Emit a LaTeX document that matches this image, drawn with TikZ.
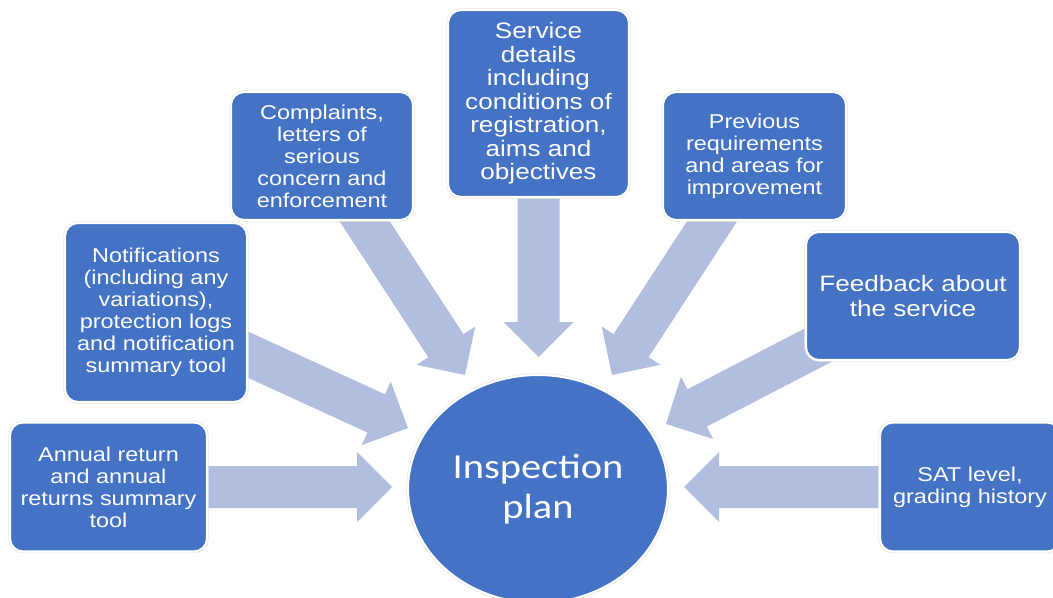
\documentclass[tikz,border=0pt]{standalone}
\usepackage{fontspec}
\setmainfont{Liberation Sans}
\newfontfamily\boxfont{Liberation Sans}[FakeStretch=1.17]
\newfontfamily\planfont{Carlito}[FakeStretch=1.15]
\usepackage{xcolor}
\usepackage{tikz}
\usetikzlibrary{calc,shapes.geometric,backgrounds}
\definecolor{boxblue}{RGB}{68,114,196}
\definecolor{arrowblue}{RGB}{177,190,223}

\tikzset{
  infobox/.style={rectangle, rounded corners=0.26cm, fill=boxblue, draw=white, line width=1.2pt,
    preaction={draw=black!10, line width=1.9pt}, text=white, align=center, inner sep=0pt,
    font=\boxfont\fontsize{11.4}{12.5}\selectfont},
  bigtext/.style={font=\boxfont\fontsize{12.7}{13.4}\selectfont},
  plannode/.style={ellipse, fill=boxblue, draw=white, line width=1.2pt,
    preaction={draw=black!10, line width=1.9pt}, text=white, align=center, inner sep=0pt,
    minimum width=5.2cm, minimum height=4.56cm, font=\planfont\fontsize{20}{22.7}\selectfont}
}

% block arrow from centre of #1 to #2
\newcommand{\fatarrow}[2]{%
  \fill[arrowblue] let \p1=(#1), \p2=(#2),
    \n1={atan2(\y2-\y1,\x2-\x1)}, \n2={veclen(\x2-\x1,\y2-\y1)} in
    [shift={(\p1)}, rotate=\n1]
    (0cm,-0.42cm) -- ({\n2-0.7cm},-0.42cm) -- ({\n2-0.7cm},-0.7cm) -- ({\n2},0cm)
    -- ({\n2-0.7cm},0.7cm) -- ({\n2-0.7cm},0.42cm) -- (0cm,0.42cm) -- cycle;
}

\begin{document}
\begin{tikzpicture}
\useasboundingbox (0,0) rectangle (21.06,11.94);

\node[plannode] (plan) at (10.76,2.16) {Inspection\\plan};

\node[infobox, minimum width=3.94cm, minimum height=2.58cm] (ann) at (2.17,2.2)
  {Annual return\\and annual\\returns summary\\tool};
\node[infobox, minimum width=3.64cm, minimum height=3.58cm] (notif) at (3.12,5.69)
  {Notifications\\(including any\\variations),\\protection logs\\and notification\\summary tool};
\node[infobox, minimum width=3.64cm, minimum height=2.56cm] (compl) at (6.44,8.82)
  {Complaints,\\letters of\\serious\\concern and\\enforcement};
\node[infobox, bigtext, minimum width=3.62cm, minimum height=3.74cm] (serv) at (10.77,9.87)
  {Service\\details\\including\\conditions of\\registration,\\aims and\\objectives};
\node[infobox, minimum width=3.66cm, minimum height=2.56cm] (prev) at (15.09,8.82)
  {Previous\\requirements\\and areas for\\improvement};
\node[infobox, bigtext, font=\boxfont\fontsize{12.7}{14.2}\selectfont,
  minimum width=4.28cm, minimum height=2.56cm] (feed) at (18.26,6.02)
  {Feedback about\\the service};
\node[infobox, minimum width=3.60cm, minimum height=2.58cm] (sat) at (19.40,2.2)
  {SAT level,\\grading history};

% arrow tips
\coordinate (tA) at (7.84,2.2);
\coordinate (tB) at (8.16,3.38);
\coordinate (tC) at (9.30,4.44);
\coordinate (tD) at (10.77,4.80);
\coordinate (tE) at (12.24,4.44);
\coordinate (tF) at (13.32,3.46);
\coordinate (tG) at (13.68,2.2);

\begin{scope}[on background layer]
\foreach \a/\b in {ann/tA, notif/tB, compl/tC, serv/tD, prev/tE, feed/tF, sat/tG}
  {\fatarrow{\a}{\b}}
\end{scope}
\end{tikzpicture}
\end{document}
